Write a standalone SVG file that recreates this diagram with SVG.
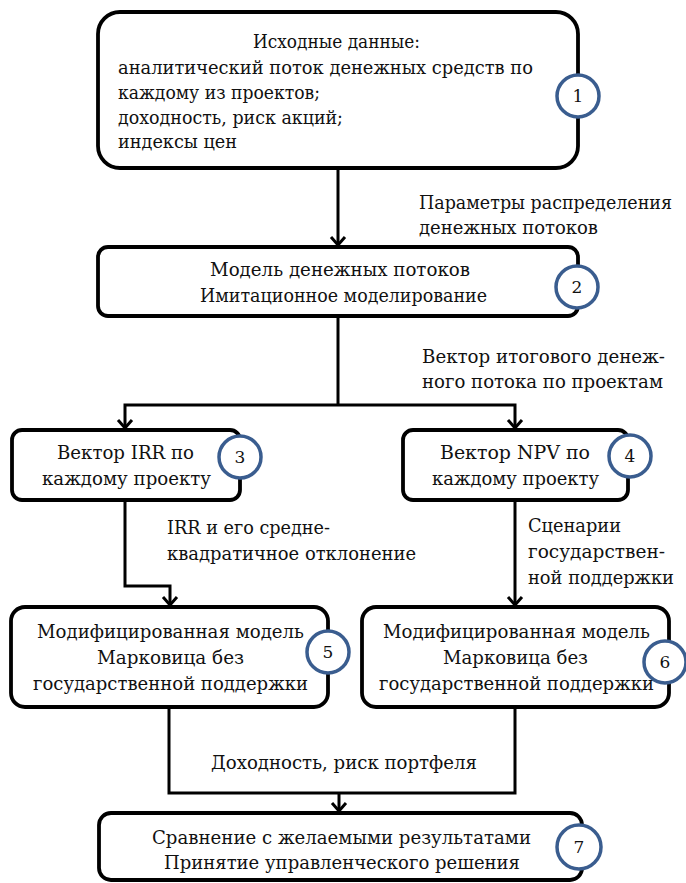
<svg xmlns="http://www.w3.org/2000/svg" width="686" height="883" viewBox="0 0 686 883">
<style>
.box{fill:#fff;stroke:#000;stroke-width:3.8}
.num{fill:#fff;stroke:#3A5D8F;stroke-width:3.5}
.t{font-family:"DejaVu Serif","Liberation Serif",serif;font-size:18px;fill:#111}
.n{font-family:"DejaVu Serif","Liberation Serif",serif;font-size:17px;fill:#111;text-anchor:middle}
.c{fill:none;stroke:#000;stroke-width:3}
</style>
<defs>
<marker id="arr" markerUnits="userSpaceOnUse" markerWidth="20" markerHeight="20" refX="10" refY="10" orient="auto" viewBox="0 0 20 20">
<path d="M2,3 L10,10 L2,17" fill="none" stroke="#000" stroke-width="3"/>
</marker>
</defs>
<rect width="686" height="883" fill="#fff"/>
<g id="connectors">
<path class="c" d="M338,168 V245" marker-end="url(#arr)"/>
<path class="c" d="M338,316 V405"/>
<path class="c" d="M338,405 H125 V428" marker-end="url(#arr)"/>
<path class="c" d="M338,405 H515 V428" marker-end="url(#arr)"/>
<path class="c" d="M125,500 V586 H170 V605" marker-end="url(#arr)"/>
<path class="c" d="M515,500 V605" marker-end="url(#arr)"/>
<path class="c" d="M169,707 V793 H515 V707"/>
<path class="c" d="M339,793 V811" marker-end="url(#arr)"/>
<g id="labels">
<text class="t" x="419" y="209" textLength="253" lengthAdjust="spacingAndGlyphs">Параметры распределения</text>
<text class="t" x="419" y="234" textLength="179" lengthAdjust="spacingAndGlyphs">денежных потоков</text>
<text class="t" x="422" y="363" textLength="243" lengthAdjust="spacingAndGlyphs">Вектор итогового денеж-</text>
<text class="t" x="422" y="388" textLength="241" lengthAdjust="spacingAndGlyphs">ного потока по проектам</text>
<text class="t" x="167" y="534" textLength="163" lengthAdjust="spacingAndGlyphs">IRR и его средне-</text>
<text class="t" x="167" y="560" textLength="249" lengthAdjust="spacingAndGlyphs">квадратичное отклонение</text>
<text class="t" x="528" y="532" textLength="93" lengthAdjust="spacingAndGlyphs">Сценарии</text>
<text class="t" x="528" y="558" textLength="137" lengthAdjust="spacingAndGlyphs">государствен-</text>
<text class="t" x="528" y="584" textLength="146" lengthAdjust="spacingAndGlyphs">ной поддержки</text>
<text class="t" x="211" y="769" textLength="266" lengthAdjust="spacingAndGlyphs">Доходность, риск портфеля</text>
</g>
</g>
<g id="node1">
<rect class="box" x="98" y="12" width="480" height="156" rx="22"/>
<text class="t" x="253" y="48" textLength="167" lengthAdjust="spacingAndGlyphs">Исходные данные:</text>
<text class="t" x="118" y="74" textLength="415" lengthAdjust="spacingAndGlyphs">аналитический поток денежных средств по</text>
<text class="t" x="118" y="99" textLength="202" lengthAdjust="spacingAndGlyphs">каждому из проектов;</text>
<text class="t" x="118" y="124" textLength="225" lengthAdjust="spacingAndGlyphs">доходность, риск акций;</text>
<text class="t" x="118" y="148" textLength="119" lengthAdjust="spacingAndGlyphs">индексы цен</text>
<circle class="num" cx="578" cy="96" r="21"/>
<text class="n" x="578" y="102">1</text>
</g>
<g id="node2">
<rect class="box" x="98" y="247" width="480" height="69" rx="10"/>
<text class="t" x="210" y="276" textLength="260" lengthAdjust="spacingAndGlyphs">Модель денежных потоков</text>
<text class="t" x="200" y="302" textLength="287" lengthAdjust="spacingAndGlyphs">Имитационное моделирование</text>
<circle class="num" cx="577" cy="287" r="21"/>
<text class="n" x="577" y="293">2</text>
</g>
<g id="node3">
<rect class="box" x="12" y="430" width="228" height="70" rx="10"/>
<text class="t" x="57" y="459" textLength="137" lengthAdjust="spacingAndGlyphs">Вектор IRR по</text>
<text class="t" x="42" y="485" textLength="169" lengthAdjust="spacingAndGlyphs">каждому проекту</text>
<circle class="num" cx="240" cy="457" r="21"/>
<text class="n" x="240" y="463">3</text>
</g>
<g id="node4">
<rect class="box" x="403" y="430" width="225" height="70" rx="10"/>
<text class="t" x="440" y="459" textLength="150" lengthAdjust="spacingAndGlyphs">Вектор NPV по</text>
<text class="t" x="432" y="485" textLength="167" lengthAdjust="spacingAndGlyphs">каждому проекту</text>
<circle class="num" cx="630" cy="456" r="21"/>
<text class="n" x="630" y="462">4</text>
</g>
<g id="node5">
<rect class="box" x="11" y="607" width="317" height="100" rx="14"/>
<text class="t" x="37" y="638" textLength="267" lengthAdjust="spacingAndGlyphs">Модифицированная модель</text>
<text class="t" x="97" y="664" textLength="147" lengthAdjust="spacingAndGlyphs">Марковица без</text>
<text class="t" x="33" y="690" textLength="275" lengthAdjust="spacingAndGlyphs">государственной поддержки</text>
<circle class="num" cx="328" cy="652" r="21"/>
<text class="n" x="328" y="658">5</text>
</g>
<g id="node6">
<rect class="box" x="362" y="607" width="307" height="100" rx="14"/>
<text class="t" x="383" y="638" textLength="267" lengthAdjust="spacingAndGlyphs">Модифицированная модель</text>
<text class="t" x="443" y="664" textLength="145" lengthAdjust="spacingAndGlyphs">Марковица без</text>
<text class="t" x="379" y="690" textLength="275" lengthAdjust="spacingAndGlyphs">государственной поддержки</text>
<circle class="num" cx="665" cy="662" r="21"/>
<text class="n" x="665" y="668">6</text>
</g>
<g id="node7">
<rect class="box" x="99" y="813" width="483" height="67" rx="12"/>
<text class="t" x="152" y="844" textLength="379" lengthAdjust="spacingAndGlyphs">Сравнение с желаемыми результатами</text>
<text class="t" x="164" y="869" textLength="356" lengthAdjust="spacingAndGlyphs">Принятие управленческого решения</text>
<circle class="num" cx="579" cy="847" r="22"/>
<text class="n" x="579" y="853">7</text>
</g>
</svg>
